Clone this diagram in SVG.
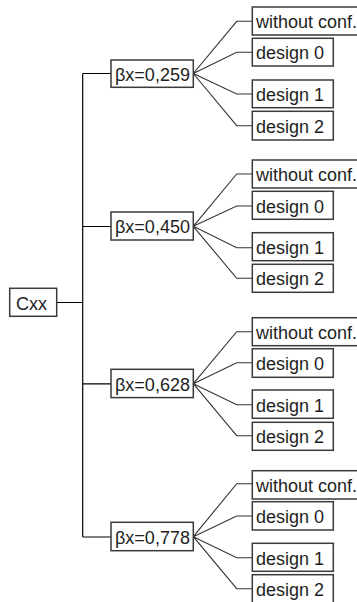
<svg xmlns="http://www.w3.org/2000/svg" width="357" height="602" viewBox="0 0 357 602">
<style>
.box{fill:#fff;stroke:#3a3a3a;stroke-width:1.5}
.t{font-family:"Liberation Sans",Arial,sans-serif;font-size:18px;fill:#1e1e1e}
.ln{fill:none;stroke:#000;stroke-width:1.2}
.fan{fill:none;stroke:#333;stroke-width:1.1}
</style>
<rect width="357" height="602" fill="#fff"/>
<g id="connectors">
<path class="ln" d="M56.7 302.5H82.7M82.7 73.5V537M82.7 73.5H111M82.7 226.5H111M82.7 383.8H111M82.7 537H111"/>
<path class="fan" d="M193.3 73.5L236.7 21.3H252M193.3 73.5L236.7 52.3H252M193.3 73.5L236.7 94H252M193.3 73.5L236.7 125.7H252"/>
<path class="fan" d="M193.3 226.3L236.7 174H252M193.3 226.3L236.7 206H252M193.3 226.3L236.7 247.7H252M193.3 226.3L236.7 278.3H252"/>
<path class="fan" d="M193.3 383.7L236.7 331.7H252M193.3 383.7L236.7 362.7H252M193.3 383.7L236.7 404.7H252M193.3 383.7L236.7 435.7H252"/>
<path class="fan" d="M193.3 536.7L236.7 483.7H252M193.3 536.7L236.7 516H252M193.3 536.7L236.7 557.7H252M193.3 536.7L236.7 588.7H252"/>
</g>
<g id="cxx"><rect class="box" x="9.7" y="288.3" width="47" height="28"/><text class="t" x="16" y="310">Cxx</text></g>
<g id="b1"><rect class="box" x="111" y="60" width="82.3" height="27.3"/><text class="t" x="115" y="80.5">βx=0,259</text></g>
<g id="b1w"><rect class="box" x="252.3" y="7" width="115" height="28"/><text class="t" x="256" y="28">without conf.</text></g>
<g id="b1d0"><rect class="box" x="252.3" y="38.3" width="81" height="27.7"/><text class="t" x="256" y="59.3">design 0</text></g>
<g id="b1d1"><rect class="box" x="252.3" y="80" width="81" height="27.7"/><text class="t" x="256" y="101">design 1</text></g>
<g id="b1d2"><rect class="box" x="252.3" y="111.3" width="81" height="28.7"/><text class="t" x="256" y="132.5">design 2</text></g>
<g id="b2"><rect class="box" x="111" y="212" width="82.3" height="28"/><text class="t" x="115" y="233">βx=0,450</text></g>
<g id="b2w"><rect class="box" x="252.3" y="160" width="115" height="28"/><text class="t" x="256" y="181">without conf.</text></g>
<g id="b2d0"><rect class="box" x="252.3" y="191.3" width="81" height="28"/><text class="t" x="256" y="212.5">design 0</text></g>
<g id="b2d1"><rect class="box" x="252.3" y="232.7" width="81" height="28"/><text class="t" x="256" y="254">design 1</text></g>
<g id="b2d2"><rect class="box" x="252.3" y="264.3" width="81" height="28"/><text class="t" x="256" y="285.3">design 2</text></g>
<g id="b3"><rect class="box" x="111" y="369.3" width="82.3" height="28.3"/><text class="t" x="115" y="390.7">βx=0,628</text></g>
<g id="b3w"><rect class="box" x="252.3" y="317.7" width="115" height="28"/><text class="t" x="256" y="338.7">without conf.</text></g>
<g id="b3d0"><rect class="box" x="252.3" y="348.7" width="81" height="28.6"/><text class="t" x="256" y="370">design 0</text></g>
<g id="b3d1"><rect class="box" x="252.3" y="390" width="81" height="28.3"/><text class="t" x="256" y="411.5">design 1</text></g>
<g id="b3d2"><rect class="box" x="252.3" y="422.3" width="81" height="28"/><text class="t" x="256" y="443.3">design 2</text></g>
<g id="b4"><rect class="box" x="111" y="522.3" width="82.3" height="28.4"/><text class="t" x="115" y="544">βx=0,778</text></g>
<g id="b4w"><rect class="box" x="252.3" y="470.7" width="115" height="28.3"/><text class="t" x="256" y="492">without conf.</text></g>
<g id="b4d0"><rect class="box" x="252.3" y="501.7" width="81" height="28.3"/><text class="t" x="256" y="523">design 0</text></g>
<g id="b4d1"><rect class="box" x="252.3" y="543.3" width="81" height="28"/><text class="t" x="256" y="564.5">design 1</text></g>
<g id="b4d2"><rect class="box" x="252.3" y="574.7" width="81" height="40"/><text class="t" x="256" y="596">design 2</text></g>
</svg>
